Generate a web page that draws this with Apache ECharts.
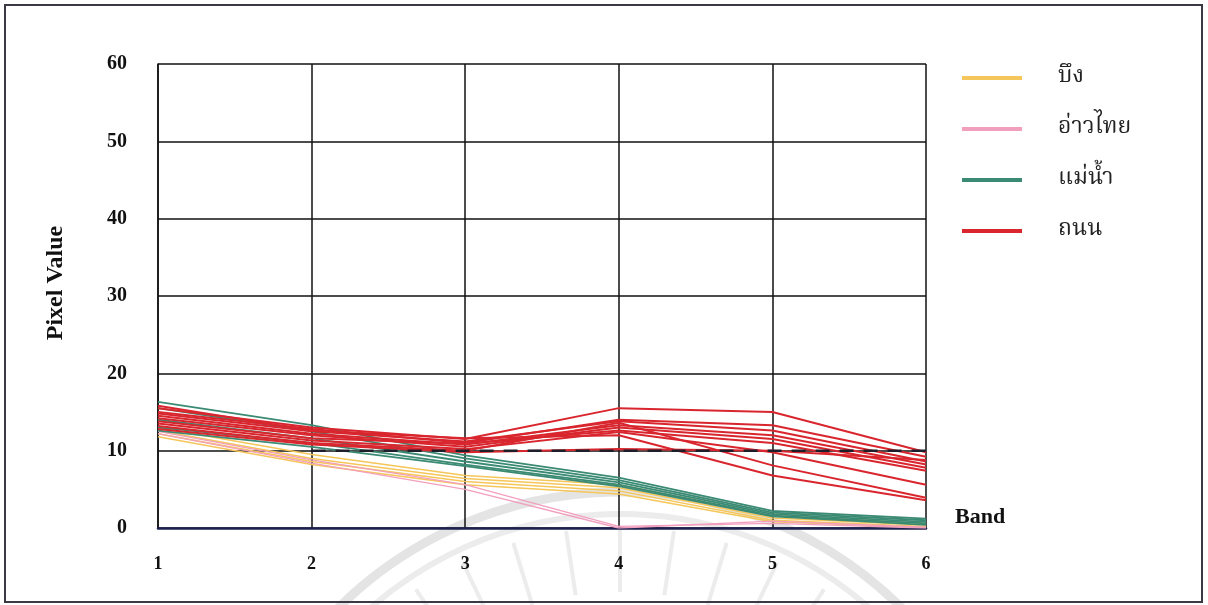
<!DOCTYPE html>
<html>
<head>
<meta charset="utf-8">
<script src="https://cdn.jsdelivr.net/npm/echarts@6/dist/echarts.min.js"></script>
<style>
  html, body { margin: 0; padding: 0; background: #fff; }
  #chart { width: 1208px; height: 605px; }
</style>
</head>
<body>
<div id="chart"></div>
<script>
// Spectral profiles: pixel value per band for sampled pixels of each class
const bands = [1, 2, 3, 4, 5, 6];
const yTicks = [0, 10, 20, 30, 40, 50, 60];
const classNames = ['บึง', 'อ่าวไทย', 'แม่น้ำ', 'ถนน'];

const pondProfiles = [
  [13.0, 9.5, 6.8, 5.6, 1.6, 0.6],
  [12.6, 9.0, 6.4, 5.2, 1.3, 0.4],
  [12.2, 8.6, 6.0, 4.8, 1.0, 0.2],
  [11.8, 8.2, 5.6, 4.4, 0.8, 0.1]
];
const gulfProfiles = [
  [12.5, 8.8, 5.6, 0.2, 0.6, 0.0],
  [12.2, 8.4, 5.0, 0.0, 0.9, 0.1]
];
const riverProfiles = [
  [16.3, 13.3, 9.4, 6.5, 2.2, 1.2],
  [15.5, 12.5, 9.0, 6.2, 2.0, 1.0],
  [14.0, 11.6, 8.6, 5.9, 1.8, 0.8],
  [13.0, 11.0, 8.2, 5.6, 1.6, 0.6],
  [12.6, 10.5, 8.0, 5.4, 1.5, 0.4]
];
const roadProfiles = [
  [15.5, 13.0, 11.5, 15.5, 15.0, 9.8],
  [15.0, 12.8, 11.0, 14.0, 13.3, 9.2],
  [14.8, 12.5, 11.2, 13.8, 12.6, 8.6],
  [14.5, 12.2, 10.8, 13.3, 12.0, 8.2],
  [14.2, 12.0, 10.5, 13.0, 11.5, 7.8],
  [13.8, 11.6, 10.9, 12.6, 11.0, 7.4],
  [13.5, 11.3, 10.2, 12.4, 9.8, 5.6],
  [13.2, 11.0, 10.0, 13.6, 8.1, 3.9],
  [15.8, 12.6, 11.6, 12.0, 6.8, 3.6],
  [12.8, 10.8, 9.8, 10.2, 10.0, 8.8]
];
// threshold reference line
const thresholdBands = [2, 6];
const thresholdValue = 10;

const classColors = ['#f5c65a', '#f29fbe', '#3b8a73', '#d9262e'];
const classWidths = [1.5, 1.3, 1.8, 2];
const groups = [pondProfiles, gulfProfiles, riverProfiles, roadProfiles];

const serif = '"Liberation Serif", "Times New Roman", serif';
const thaiFont = '"Norasi", "Noto Serif Thai", "Noto Sans Thai Looped", "Loma", "Garuda", "Noto Sans Thai", "DejaVu Sans", "Noto Sans", serif';

const series = [];
groups.forEach((profiles, ci) => {
  profiles.forEach(p => {
    series.push({
      name: classNames[ci],
      type: 'line',
      data: p.map((v, i) => [bands[i], v]),
      symbol: 'none',
      lineStyle: { color: classColors[ci], width: classWidths[ci] },
      itemStyle: { color: classColors[ci] },
      z: 3 + ci,
      silent: true
    });
  });
});
series.push({
  name: 'threshold',
  type: 'line',
  data: thresholdBands.map(b => [b, thresholdValue]),
  symbol: 'none',
  lineStyle: { color: '#1e1e2a', width: 2.5, type: [14, 10] },
  z: 10,
  silent: true
});

// faint seal arcs and rays in the lower background
const sealCx = 620, sealCy = 892;
const rays = [];
for (let a = -34; a <= 34; a += 8.5) {
  const r = a * Math.PI / 180;
  rays.push({
    type: 'line',
    silent: true,
    z: -1,
    shape: {
      x1: sealCx + Math.sin(r) * 300, y1: sealCy - Math.cos(r) * 300,
      x2: sealCx + Math.sin(r) * 365, y2: sealCy - Math.cos(r) * 365
    },
    style: { stroke: '#ececec', lineWidth: 4 }
  });
}

const chart = echarts.init(document.getElementById('chart'), null, { renderer: 'canvas' });
chart.setOption({
  backgroundColor: '#ffffff',
  animation: false,
  grid: { left: 158, right: 282, top: 64, bottom: 77 },
  legend: {
    data: classNames,
    orient: 'vertical',
    left: 957,
    top: 61,
    itemWidth: 60,
    itemHeight: 4,
    itemGap: 27,
    icon: 'rect',
    selectedMode: false,
    textStyle: { fontFamily: thaiFont, fontSize: 23, color: '#222', padding: [0, 0, 0, 31], lineHeight: 24 }
  },
  xAxis: {
    type: 'value',
    min: 1, max: 6, interval: 1,
    name: 'Band',
    nameLocation: 'end',
    nameGap: 29,
    nameTextStyle: { fontFamily: serif, fontWeight: 'bold', fontSize: 22, color: '#111', verticalAlign: 'bottom' },
    axisLine: { show: true, lineStyle: { color: '#1c2150', width: 2.5 } },
    axisTick: { show: false },
    axisLabel: { fontFamily: serif, fontWeight: 'bold', fontSize: 18, color: '#111', margin: 27 },
    splitLine: { show: true, lineStyle: { color: '#111', width: 1.5 } }
  },
  yAxis: {
    type: 'value',
    min: yTicks[0], max: yTicks[yTicks.length - 1], interval: 10,
    name: 'Pixel Value',
    nameLocation: 'middle',
    nameGap: 90,
    nameTextStyle: { fontFamily: serif, fontWeight: 'bold', fontSize: 24, color: '#111', padding: [0, 0, 0, 26] },
    axisLine: { show: true, lineStyle: { color: '#111', width: 1.5 } },
    axisTick: { show: false },
    axisLabel: { fontFamily: serif, fontWeight: 'bold', fontSize: 20, color: '#111', margin: 31 },
    splitLine: { show: true, lineStyle: { color: '#111', width: 1.5 } }
  },
  graphic: [
    {
      type: 'rect', silent: true, z: 100,
      shape: { x: 5, y: 5, width: 1197, height: 597 },
      style: { fill: 'none', stroke: '#3a3a44', lineWidth: 2 }
    },
    {
      type: 'arc', silent: true, z: -1,
      shape: { cx: sealCx, cy: sealCy, r: 400, startAngle: Math.PI * 1.1, endAngle: Math.PI * 1.9 },
      style: { stroke: '#e4e4e4', lineWidth: 9, fill: 'none' }
    },
    {
      type: 'arc', silent: true, z: -1,
      shape: { cx: sealCx, cy: sealCy, r: 378, startAngle: Math.PI * 1.1, endAngle: Math.PI * 1.9 },
      style: { stroke: '#ececec', lineWidth: 6, fill: 'none' }
    }
  ].concat(rays),
  series: series
});
</script>
</body>
</html>
